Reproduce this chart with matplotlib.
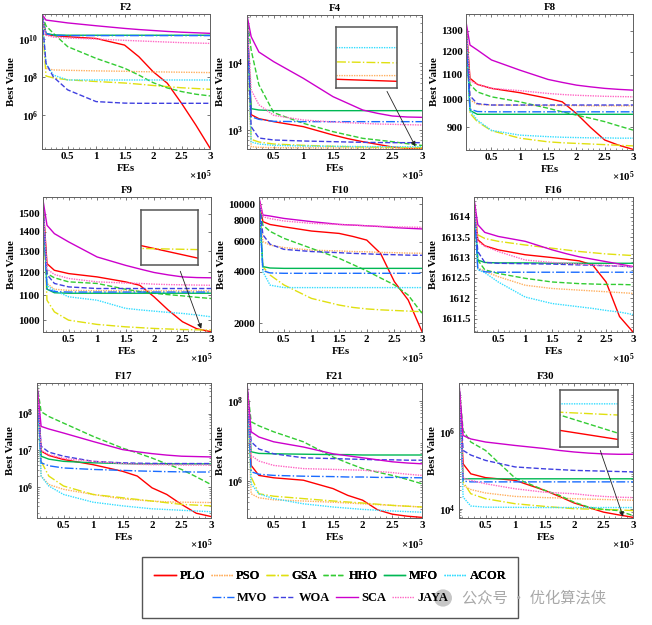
import matplotlib.pyplot as plt
import numpy as np
from matplotlib.patches import Rectangle, Circle
from matplotlib.ticker import FixedLocator, MultipleLocator, NullLocator, NullFormatter

plt.rcParams['font.family'] = ['Liberation Serif', 'DejaVu Serif']
plt.rcParams['font.weight'] = 'bold'
plt.rcParams['mathtext.fontset'] = 'custom'
plt.rcParams['mathtext.rm'] = 'Liberation Serif:bold'
plt.rcParams['mathtext.bf'] = 'Liberation Serif:bold'
plt.rcParams['mathtext.it'] = 'Liberation Serif:bold:italic'

# algorithms, in legend order
ALGOS = ['PLO', 'PSO', 'GSA', 'HHO', 'MFO', 'ACOR', 'MVO', 'WOA', 'SCA', 'JAYA']
COLORS = ['#ff0000', '#ffb060', '#e0e010', '#33cc33', '#00b854', '#33ddff',
          '#1a6cff', '#4040e0', '#cc00cc', '#ff66c4']
STYLES = ['-', (0, (1, 0.8)), '-.', '--', '-', (0, (1, 0.8)), '-.', '--', '-', (0, (1, 0.8))]

# function evaluations (x 1e5) where the curves were read
FES = [0.05, 0.12, 0.25, 0.5, 1.0, 1.5, 1.75, 2.0, 2.25, 2.5, 2.75, 3.0]

# log10(best value), one row per algorithm
F2_LOG10 = [
    [11.25, 10.25, 10.18, 10.12, 10.03, 9.68, 9.07, 8.28, 7.67, 6.61, 5.47, 4.25],
    [11.2, 8.45, 8.37, 8.35, 8.32, 8.30, 8.28, 8.27, 8.26, 8.25, 8.24, 8.23],
    [11.2, 8.05, 7.95, 7.85, 7.76, 7.68, 7.62, 7.55, 7.49, 7.43, 7.39, 7.35],
    [11.25, 10.7, 10.3, 9.6, 8.98, 8.46, 8.1, 7.7, 7.42, 7.23, 7.09, 7.0],
    [11.25, 10.3, 10.22, 10.2, 10.2, 10.2, 10.2, 10.2, 10.2, 10.2, 10.2, 10.2],
    [11.2, 8.7, 8.1, 7.84, 7.84, 7.84, 7.84, 7.84, 7.84, 7.84, 7.84, 7.84],
    [11.25, 10.28, 10.2, 10.18, 10.18, 10.18, 10.18, 10.18, 10.18, 10.18, 10.18, 10.18],
    [11.25, 8.72, 8.0, 7.32, 6.7, 6.62, 6.61, 6.61, 6.61, 6.61, 6.61, 6.61],
    [11.3, 11.0, 10.95, 10.85, 10.7, 10.56, 10.5, 10.45, 10.4, 10.36, 10.33, 10.3],
    [11.25, 10.2, 10.1, 10.05, 10.0, 9.93, 9.9, 9.87, 9.84, 9.81, 9.79, 9.77],
]
F4_LOG10 = [
    [4.7, 3.23, 3.17, 3.125, 3.05, 2.925, 2.87, 2.825, 2.785, 2.745, 2.7235, 2.7215],
    [4.6, 2.75, 2.74, 2.735, 2.733, 2.731, 2.73, 2.729, 2.728, 2.727, 2.726, 2.726],
    [4.6, 2.86, 2.82, 2.79, 2.77, 2.755, 2.75, 2.745, 2.742, 2.739, 2.737, 2.736],
    [4.7, 4.2, 3.68, 3.26, 3.1, 2.975, 2.925, 2.875, 2.85, 2.825, 2.795, 2.768],
    [4.7, 3.32, 3.3, 3.29, 3.29, 3.29, 3.29, 3.29, 3.29, 3.29, 3.29, 3.29],
    [4.6, 2.82, 2.79, 2.77, 2.76, 2.755, 2.753, 2.751, 2.75, 2.749, 2.748, 2.748],
    [4.7, 3.2, 3.16, 3.13, 3.125, 3.125, 3.125, 3.125, 3.125, 3.125, 3.125, 3.125],
    [4.7, 3.05, 2.88, 2.85, 2.835, 2.825, 2.82, 2.815, 2.812, 2.81, 2.81, 2.81],
    [4.72, 4.4, 4.17, 4.025, 3.775, 3.5, 3.4, 3.3, 3.25, 3.21, 3.195, 3.19],
    [4.7, 3.6, 3.38, 3.22, 3.15, 3.12, 3.11, 3.10, 3.09, 3.085, 3.08, 3.075],
]
F8_VALUES = [
    [1340, 1085, 1060, 1044, 1027, 1005, 992, 949, 900, 858, 841, 828],
    [1330, 1000, 982, 980, 979, 978, 978, 978, 977, 977, 977, 977],
    [1320, 950, 920, 889, 864, 852, 849, 847, 845, 843, 841, 839],
    [1340, 1060, 1030, 1011, 992, 968, 955, 943, 932, 920, 905, 891],
    [1330, 960, 946, 946, 946, 946, 946, 946, 946, 946, 946, 946],
    [1320, 960, 925, 890, 874, 869, 867, 866, 865, 865, 864, 864],
    [1330, 965, 956, 955, 955, 955, 955, 955, 955, 955, 955, 955],
    [1330, 1015, 985, 980, 980, 980, 980, 980, 980, 980, 980, 980],
    [1345, 1231, 1208, 1163, 1119, 1080, 1068, 1057, 1050, 1044, 1040, 1037],
    [1340, 1075, 1060, 1044, 1035, 1024, 1020, 1017, 1015, 1013, 1012, 1011],
]
F9_VALUES = [
    [1560, 1240, 1209, 1194, 1179, 1157, 1142, 1093, 1039, 994, 968, 957],
    [1540, 1150, 1125, 1120, 1119, 1118, 1118, 1118, 1118, 1118, 1118, 1118],
    [1540, 1079, 1032, 1000, 984, 975, 972, 969, 967, 965, 964, 963],
    [1560, 1194, 1175, 1157, 1150, 1125, 1115, 1108, 1102, 1097, 1091, 1086],
    [1560, 1125, 1110, 1108, 1108, 1108, 1108, 1108, 1108, 1108, 1108, 1108],
    [1540, 1140, 1120, 1093, 1079, 1046, 1040, 1035, 1030, 1026, 1020, 1013],
    [1560, 1125, 1115, 1113, 1113, 1113, 1113, 1113, 1113, 1113, 1113, 1113],
    [1560, 1190, 1150, 1135, 1128, 1128, 1128, 1128, 1128, 1128, 1128, 1128],
    [1580, 1435, 1390, 1347, 1272, 1232, 1215, 1199, 1188, 1179, 1176, 1175],
    [1560, 1215, 1190, 1172, 1157, 1152, 1150, 1147, 1145, 1144, 1143, 1142],
]
F10_VALUES = [
    [10700, 7890, 7590, 7360, 6950, 6730, 6460, 6150, 5140, 3510, 2740, 1790],
    [10000, 6030, 5750, 5560, 5370, 5310, 5270, 5250, 5210, 5190, 5160, 5150],
    [10000, 4300, 3840, 3360, 2800, 2560, 2480, 2430, 2400, 2380, 2360, 2340],
    [10700, 7530, 6920, 6300, 5500, 4810, 4420, 4060, 3690, 3360, 2930, 2290],
    [10700, 4300, 4220, 4200, 4200, 4200, 4200, 4200, 4200, 4200, 4200, 4200],
    [10000, 4020, 3350, 3240, 3240, 3240, 3240, 3240, 3240, 3240, 3240, 3240],
    [10700, 4070, 3950, 3930, 3930, 3930, 3930, 3930, 3930, 3930, 3930, 3930],
    [10700, 6610, 5820, 5430, 5270, 5190, 5140, 5110, 5070, 5050, 5020, 5010],
    [10960, 8630, 8510, 8240, 7890, 7600, 7530, 7460, 7380, 7280, 7210, 7150],
    [10700, 8430, 8220, 7960, 7710, 7590, 7530, 7460, 7410, 7360, 7330, 7310],
]
F16_VALUES = [
    [1614.4, 1613.44, 1613.29, 1613.19, 1613.07, 1613.0, 1612.96, 1612.92, 1612.82, 1612.4, 1611.55, 1611.17],
    [1614.3, 1612.75, 1612.66, 1612.53, 1612.32, 1612.24, 1612.22, 1612.20, 1612.18, 1612.16, 1612.14, 1612.12],
    [1614.3, 1613.56, 1613.47, 1613.40, 1613.31, 1613.23, 1613.19, 1613.15, 1613.12, 1613.09, 1613.07, 1613.05],
    [1614.4, 1612.94, 1612.70, 1612.61, 1612.49, 1612.40, 1612.38, 1612.36, 1612.35, 1612.34, 1612.34, 1612.33],
    [1614.4, 1612.94, 1612.88, 1612.87, 1612.87, 1612.86, 1612.86, 1612.86, 1612.86, 1612.86, 1612.86, 1612.86],
    [1614.4, 1612.70, 1612.63, 1612.40, 1612.03, 1611.87, 1611.83, 1611.79, 1611.75, 1611.70, 1611.66, 1611.60],
    [1614.4, 1612.72, 1612.65, 1612.64, 1612.64, 1612.64, 1612.64, 1612.64, 1612.64, 1612.64, 1612.64, 1612.64],
    [1614.4, 1613.15, 1612.88, 1612.86, 1612.85, 1612.84, 1612.83, 1612.82, 1612.81, 1612.80, 1612.79, 1612.77],
    [1614.45, 1613.81, 1613.62, 1613.52, 1613.40, 1613.19, 1613.10, 1613.02, 1612.96, 1612.90, 1612.84, 1612.78],
    [1614.4, 1613.40, 1613.28, 1613.15, 1612.94, 1612.88, 1612.86, 1612.84, 1612.82, 1612.81, 1612.79, 1612.78],
]
F17_LOG10 = [
    [8.8, 6.98, 6.86, 6.75, 6.61, 6.43, 6.30, 5.98, 5.80, 5.53, 5.29, 5.20],
    [8.7, 6.30, 6.07, 5.94, 5.80, 5.68, 5.65, 5.62, 5.60, 5.59, 5.585, 5.58],
    [8.7, 6.70, 6.30, 6.03, 5.80, 5.71, 5.665, 5.62, 5.575, 5.53, 5.51, 5.49],
    [8.8, 8.05, 7.92, 7.74, 7.38, 7.06, 6.93, 6.79, 6.63, 6.48, 6.28, 6.07],
    [8.8, 6.84, 6.76, 6.70, 6.66, 6.64, 6.63, 6.63, 6.63, 6.63, 6.63, 6.63],
    [8.7, 6.30, 6.03, 5.80, 5.59, 5.49, 5.45, 5.41, 5.39, 5.37, 5.35, 5.33],
    [8.8, 6.66, 6.58, 6.52, 6.48, 6.455, 6.44, 6.43, 6.42, 6.415, 6.41, 6.41],
    [8.8, 7.11, 6.95, 6.84, 6.70, 6.66, 6.65, 6.645, 6.64, 6.64, 6.64, 6.64],
    [8.8, 7.65, 7.58, 7.47, 7.24, 7.02, 6.96, 6.91, 6.87, 6.84, 6.83, 6.82],
    [8.8, 7.0, 6.88, 6.78, 6.70, 6.64, 6.62, 6.61, 6.61, 6.60, 6.60, 6.60],
]
F21_LOG10 = [
    [8.4, 6.39, 6.14, 6.08, 6.02, 5.81, 5.64, 5.52, 5.28, 5.17, 5.12, 5.09],
    [8.3, 5.68, 5.58, 5.53, 5.50, 5.47, 5.45, 5.43, 5.41, 5.39, 5.37, 5.35],
    [8.3, 6.10, 5.68, 5.62, 5.56, 5.50, 5.475, 5.45, 5.42, 5.39, 5.37, 5.35],
    [8.4, 7.48, 7.38, 7.23, 6.98, 6.60, 6.45, 6.31, 6.22, 6.14, 6.04, 5.93],
    [8.4, 6.73, 6.69, 6.68, 6.67, 6.66, 6.66, 6.65, 6.65, 6.65, 6.65, 6.65],
    [8.3, 5.93, 5.68, 5.56, 5.43, 5.35, 5.32, 5.29, 5.27, 5.25, 5.235, 5.22],
    [8.4, 6.23, 6.17, 6.14, 6.12, 6.11, 6.10, 6.10, 6.09, 6.09, 6.085, 6.08],
    [8.4, 6.98, 6.80, 6.68, 6.58, 6.56, 6.55, 6.54, 6.53, 6.53, 6.52, 6.52],
    [8.45, 7.23, 7.10, 6.98, 6.85, 6.68, 6.63, 6.58, 6.53, 6.48, 6.45, 6.43],
    [8.4, 6.64, 6.50, 6.39, 6.31, 6.29, 6.28, 6.27, 6.24, 6.21, 6.17, 6.14],
]
F30_LOG10 = [
    [7.25, 5.17, 4.91, 4.81, 4.74, 4.48, 4.32, 4.15, 4.03, 3.91, 3.84, 3.775],
    [7.2, 4.61, 4.50, 4.41, 4.32, 4.29, 4.28, 4.26, 4.25, 4.24, 4.23, 4.22],
    [7.2, 4.70, 4.39, 4.26, 4.13, 4.06, 4.03, 4.0, 3.99, 3.98, 3.97, 3.95],
    [7.25, 6.04, 5.74, 5.52, 4.80, 4.48, 4.35, 4.17, 4.04, 3.98, 3.95, 3.82],
    [7.25, 4.78, 4.78, 4.78, 4.78, 4.78, 4.78, 4.78, 4.78, 4.78, 4.78, 4.78],
    [7.2, 4.30, 4.07, 4.04, 4.035, 4.03, 4.03, 4.03, 4.03, 4.03, 4.03, 4.03],
    [7.25, 4.72, 4.70, 4.70, 4.70, 4.70, 4.70, 4.70, 4.70, 4.70, 4.70, 4.70],
    [7.25, 5.52, 5.40, 5.26, 5.09, 5.04, 5.02, 5.0, 4.99, 4.98, 4.97, 4.96],
    [7.28, 5.91, 5.82, 5.74, 5.65, 5.57, 5.52, 5.48, 5.45, 5.43, 5.42, 5.42],
    [7.25, 4.80, 4.74, 4.65, 4.52, 4.43, 4.41, 4.39, 4.35, 4.32, 4.30, 4.29],
]


def pow10(rows):
    return [10 ** np.array(r) for r in rows]


# title, curves, y scale, y limits, y ticks, tick labels, axes box (px: left, top, right, bottom)
panels = [
    ('F2', pow10(F2_LOG10), 'log', (10 ** 4.2, 10 ** 11.32), [1e6, 1e8, 1e10],
     [r'$10^{6}$', r'$10^{8}$', r'$10^{10}$'], (42, 14, 210, 149)),
    ('F4', pow10(F4_LOG10), 'log', (10 ** 2.715, 10 ** 4.725), [1e3, 1e4],
     [r'$10^{3}$', r'$10^{4}$'], (247, 15, 422, 149)),
    ('F8', F8_VALUES, 'log', (826, 1385), [900, 1000, 1100, 1200, 1300],
     None, (466, 14, 633, 150)),
    ('F9', F9_VALUES, 'log', (956, 1598), [1000, 1100, 1200, 1300, 1400, 1500],
     None, (43, 197, 211, 332)),
    ('F10', F10_VALUES, 'log', (1780, 11000), [2000, 4000, 6000, 8000, 10000],
     None, (259, 197, 422, 332)),
    ('F16', F16_VALUES, 'linear', (1611.17, 1614.49), [1611.5, 1612, 1612.5, 1613, 1613.5, 1614],
     ['1611.5', '1612', '1612.5', '1613', '1613.5', '1614'], (474, 197, 633, 332)),
    ('F17', pow10(F17_LOG10), 'log', (10 ** 5.16, 10 ** 8.83), [1e6, 1e7, 1e8],
     [r'$10^{6}$', r'$10^{7}$', r'$10^{8}$'], (37, 383, 211, 518)),
    ('F21', pow10(F21_LOG10), 'log', (10 ** 5.075, 10 ** 8.45), [1e6, 1e8],
     [r'$10^{6}$', r'$10^{8}$'], (247, 383, 422, 518)),
    ('F30', pow10(F30_LOG10), 'log', (10 ** 3.757, 10 ** 7.28), [1e4, 1e6],
     [r'$10^{4}$', r'$10^{6}$'], (459, 383, 633, 518)),
]

# zoomed insets: panel -> (box in axes fraction, x range, y range, arrow start, arrow end)
insets = {
    'F4': ([0.51, 0.453, 0.347, 0.455], (2.8e5, 3.0e5), (10 ** 2.716, 10 ** 2.764),
           (0.80, 0.43), (0.962, 0.02)),
    'F9': ([0.584, 0.494, 0.338, 0.407], (2.8e5, 3.0e5), (952, 991),
           (0.817, 0.45), (0.942, 0.025)),
    'F30': ([0.579, 0.526, 0.335, 0.42], (2.75e5, 3.0e5), (10 ** 3.721, 10 ** 4.127),
            (0.812, 0.50), (0.943, 0.01)),
}

W, H = 652, 625
fig = plt.figure(figsize=(W / 100, H / 100), dpi=100)
x = np.array(FES) * 1e5
EDGE = '#606060'
FS = 7.8


def draw_curves(ax, rows):
    lines = []
    for vals, color, style, name in zip(rows, COLORS, STYLES, ALGOS):
        line, = ax.plot(x, vals, color=color, linestyle=style, linewidth=1.0, label=name)
        lines.append(line)
    return lines


handles = None
for title, rows, scale, ylim, yticks, ylabels, (l, t, r, b) in panels:
    ax = fig.add_axes([l / W, 1 - b / H, (r - l) / W, (b - t) / H])
    lines = draw_curves(ax, rows)
    if handles is None:
        handles = lines
    ax.set_yscale(scale)
    ax.set_xlim(0.05e5, 3e5)
    ax.set_ylim(*ylim)
    ax.set_xticks(np.arange(0.5, 3.01, 0.5) * 1e5)
    ax.set_xticklabels(['0.5', '1', '1.5', '2', '2.5', '3'])
    ax.xaxis.set_minor_locator(MultipleLocator(0.1e5))
    ax.yaxis.set_major_locator(FixedLocator(yticks))
    if ylabels is None:
        ylabels = [str(v) for v in yticks]
    ax.set_yticklabels(ylabels)
    ax.yaxis.set_minor_formatter(NullFormatter())
    if ylabels[0].startswith('$'):
        pass
    elif scale == 'log':
        ax.yaxis.set_minor_locator(NullLocator())
    else:
        ax.yaxis.set_minor_locator(MultipleLocator(0.1))
    ax.tick_params(which='both', direction='in', top=True, right=True,
                   labelsize=FS, colors=EDGE, labelcolor='black', pad=2.5)
    ax.tick_params(which='major', length=2.5, width=0.6)
    ax.tick_params(which='minor', length=1.3, width=0.5)
    for s in ax.spines.values():
        s.set_color(EDGE)
        s.set_linewidth(0.7)
    ax.set_title(title, fontsize=FS, fontweight='bold', pad=3)
    ax.set_xlabel('FEs', fontsize=FS, fontweight='bold', labelpad=2)
    ax.set_ylabel('Best Value', fontsize=FS, fontweight='bold', labelpad=1.5)
    ax.annotate(r'$\times10^{5}$', xy=(1, 0), xycoords='axes fraction',
                xytext=(2, -27), textcoords='offset pixels', ha='right', va='center',
                fontsize=FS)

    if title in insets:
        box, ixr, iyr, a0, a1 = insets[title]
        ins = ax.inset_axes(box)
        draw_curves(ins, rows)
        ins.set_yscale(scale)
        ins.set_xlim(*ixr)
        ins.set_ylim(*iyr)
        ins.set_xticks([])
        ins.set_yticks([])
        ins.yaxis.set_minor_locator(NullLocator())
        ins.xaxis.set_minor_locator(NullLocator())
        for s in ins.spines.values():
            s.set_color('#555555')
            s.set_linewidth(1.1)
        ax.annotate('', xy=a1, xycoords='axes fraction', xytext=a0,
                    textcoords='axes fraction',
                    arrowprops=dict(arrowstyle='-|>', color='#222222', lw=0.6,
                                    mutation_scale=7, shrinkA=0, shrinkB=0))

# legend box with two centred rows
fig.patches.append(Rectangle((142 / W, 1 - 618 / H), 376 / W, 61 / H,
                             transform=fig.transFigure, fill=False,
                             edgecolor='#555555', linewidth=1.0))
leg_kw = dict(loc='center', frameon=False, handlelength=1.75, handletextpad=0.3,
              columnspacing=0.45, borderpad=0, prop={'size': 9, 'weight': 'bold'})
leg1 = fig.legend(handles[:6], ALGOS[:6], ncol=6, bbox_to_anchor=(330 / W, 1 - 576 / H), **leg_kw)
fig.add_artist(leg1)
fig.legend(handles[6:], ALGOS[6:], ncol=4, bbox_to_anchor=(330 / W, 1 - 598 / H), **leg_kw)

# watermark
fig.patches.append(Circle((443 / W, 1 - 598 / H), 9 / W, transform=fig.transFigure,
                          facecolor='#b8b8b8', edgecolor='none', alpha=0.8))
fig.text(462 / W, 1 - 598 / H, '公众号 · 优化算法侠', fontsize=11, color='#a8a8a8',
         va='center', ha='left', family=['Noto Sans CJK SC', 'DejaVu Sans'],
         fontweight='normal')

fig.savefig('out.png', dpi=100)
